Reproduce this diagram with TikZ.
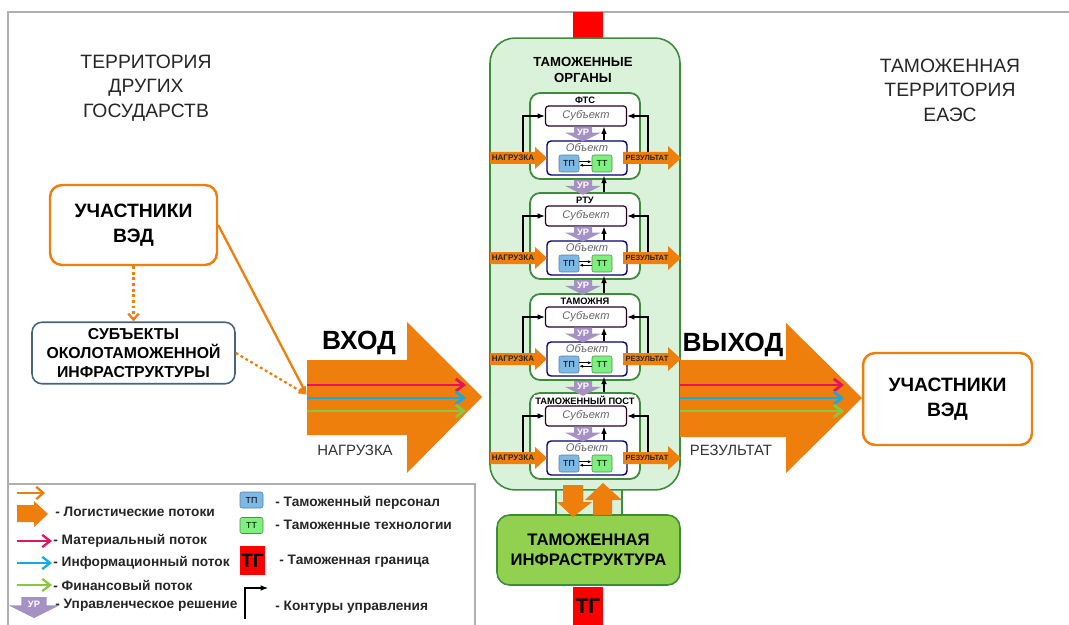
\documentclass[tikz,border=0pt]{standalone}
\usepackage{fontspec}
\setmainfont{Liberation Sans}
\usetikzlibrary{arrows.meta,positioning}
\definecolor{orng}{RGB}{238,127,12}
\definecolor{orgfill}{RGB}{218,242,218}
\definecolor{orgline}{RGB}{60,140,60}
\definecolor{infrafill}{RGB}{146,208,80}
\definecolor{urcol}{RGB}{165,145,195}
\definecolor{tpcol}{RGB}{125,185,230}
\definecolor{ttcol}{RGB}{125,240,125}
\definecolor{pnk}{RGB}{232,18,98}
\definecolor{cyn}{RGB}{22,170,225}
\definecolor{grn}{RGB}{140,198,63}
\definecolor{subline}{RGB}{70,100,125}
\definecolor{frame}{RGB}{175,175,175}
\tikzset{
  pics/ur/.style={code={
    \fill[urcol] (-9,0) -- (9,0) -- (9,6) -- (18,6) -- (0,15) -- (-18,6) -- (-9,6) -- cycle;
    \node[text=white,font=\bfseries\fontsize{5.3}{6}\selectfont,inner sep=0] at (0,5.5) {УР};
  }}
}
\begin{document}
\begin{tikzpicture}[x=0.02cm,y=-0.02cm,
  region/.style={align=center,text=black!85,font=\fontsize{11}{14}\selectfont},
  vedbox/.style={draw=orng,line width=1.4pt,fill=white,rounded corners=0.24cm,align=center,font=\bfseries\fontsize{11}{14}\selectfont},
  subbox/.style={draw=subline,line width=0.9pt,fill=white,rounded corners=0.2cm,align=center,minimum width=4.06cm,minimum height=1.2cm,font=\bfseries\fontsize{9}{11}\selectfont},
  bigword/.style={font=\bfseries\fontsize{15}{18}\selectfont,inner sep=0},
  smallword/.style={text=black!80,font=\fontsize{8.5}{10}\selectfont,inner sep=0},
  unitbox/.style={draw=orgline,line width=1pt,fill=white,rounded corners=0.2cm,minimum width=2.2cm,minimum height=1.72cm},
  unitttl/.style={font=\bfseries\fontsize{5.3}{6}\selectfont,inner sep=0.5pt},
  subjbox/.style={draw=black!70!violet,line width=0.7pt,fill=white,rounded corners=0.06cm,minimum width=1.62cm,minimum height=0.4cm,text=black!60,font=\itshape\fontsize{6.3}{7}\selectfont,inner sep=0},
  objbox/.style={draw=blue!45!black,line width=0.8pt,fill=white,rounded corners=0.08cm,minimum width=1.6cm,minimum height=0.68cm},
  objlbl/.style={text=black!60,font=\itshape\fontsize{6.3}{7}\selectfont,inner sep=0},
  tpbox/.style={fill=tpcol,draw=tpcol!70!black,line width=0.3pt,rounded corners=0.04cm,minimum width=0.4cm,minimum height=0.34cm,inner sep=0,font=\fontsize{5}{6}\selectfont},
  ttbox/.style={tpbox,fill=ttcol,draw=ttcol!60!black},
  tinyarr/.style={-{Latex[length=2.2pt,width=1.8pt]},line width=0.45pt},
  ctl/.style={-{Latex[length=4.2pt,width=3.2pt]},line width=0.6pt},
  arrword/.style={font=\bfseries\fontsize{4.6}{5}\selectfont,text=black!85,inner sep=0},
  flow/.style={line width=1.6pt,-{Straight Barb[length=4.5pt,width=7pt]}},
  legtxt/.style={anchor=west,font=\bfseries\fontsize{7.8}{9}\selectfont,text=black!85,inner sep=0}]
\useasboundingbox (0,0) rectangle (1069,625);

% frame
\draw[frame,line width=0.8pt] (8,625) -- (8,12) -- (1069,12);

% regions
\node[region] (terL) at (146,88) {ТЕРРИТОРИЯ\\ДРУГИХ\\ГОСУДАРСТВ};
\node[region] (terR) at (950,90) {ТАМОЖЕННАЯ\\ТЕРРИТОРИЯ\\ЕАЭС};

% customs border and bodies
\fill[red] (573,12) rectangle (603,40);
\draw[orgline,fill=orgfill,line width=0.8pt] (556,480) rectangle (622,520);
\node[draw=orgline,line width=0.9pt,fill=orgfill,rounded corners=0.5cm,minimum width=3.8cm,minimum height=9.04cm] (organs) at (585,264) {};
\node[font=\bfseries\fontsize{7.5}{9}\selectfont,align=center] (orgttl) at (583,70) {ТАМОЖЕННЫЕ\\ОРГАНЫ};
\node[draw=orgline,line width=0.9pt,fill=infrafill,rounded corners=0.25cm,minimum width=3.66cm,minimum height=1.4cm,align=center,font=\bfseries\fontsize{9.5}{11.5}\selectfont] (infra) at (588.5,550) {ТАМОЖЕННАЯ\\ИНФРАСТРУКТУРА};
\node[fill=red,minimum width=0.6cm,minimum height=0.76cm,inner sep=0,font=\bfseries\fontsize{12}{14}\selectfont] (tgbot) at (588,606) {ТГ};
\fill[orng] (563,485) -- (583,485) -- (583,502) -- (592,502) -- (573,517) -- (557,502) -- (563,502) -- cycle;
\fill[orng] (593,515) -- (612,515) -- (612,500) -- (622,500) -- (603,483) -- (585,500) -- (593,500) -- cycle;

% units
\coordinate (lx) at (523,0);
\coordinate (rx) at (648,0);
\coordinate (ux) at (604,0);
\coordinate (urx) at (583,0);
\foreach \i/\y/\ttl in {1/93/ФТС,2/193/РТУ,3/294/ТАМОЖНЯ,4/393/ТАМОЖЕННЫЙ ПОСТ}{
  \node[unitbox] (unit\i) at (585,\y+43) {};
  \node[unitttl,fill=white] (ttl\i) at (585,\y+7) {\ttl};
  \node[subjbox] (subj\i) at (586,\y+23) {Субъект};
  \node[objbox] (obj\i) at (587,\y+65) {};
  \node[objlbl] (objl\i) at (587,\y+54) {Объект};
  \node[tpbox] (tp\i) at (569,\y+70.5) {ТП};
  \node[ttbox] (tt\i) at (602,\y+70.5) {ТТ};
  \draw[tinyarr] ([yshift=0.035cm]tp\i.east) -- ([yshift=0.035cm]tt\i.west);
  \draw[tinyarr] ([yshift=-0.035cm]tt\i.west) -- ([yshift=-0.035cm]tp\i.east);
  \draw[ctl] (obj\i.north -| ux) -- (subj\i.south -| ux);
  \pic at (subj\i.south -| urx) {ur};
  \draw[ctl] (lx |- obj\i.center) |- (subj\i.west);
  \draw[ctl] (rx |- obj\i.center) |- (subj\i.east);
  \fill[orng] (490,\y+59) -- (535,\y+59) -- (535,\y+54) -- (547,\y+65) -- (535,\y+76) -- (535,\y+71) -- (490,\y+71) -- cycle;
  \node[arrword] (nag\i) at (513,\y+65) {НАГРУЗКА};
  \fill[orng] (623,\y+59) -- (668,\y+59) -- (668,\y+53) -- (681,\y+65) -- (668,\y+77) -- (668,\y+71) -- (623,\y+71) -- cycle;
  \node[arrword,font=\bfseries\fontsize{4.3}{5}\selectfont] (res\i) at (647,\y+65) {РЕЗУЛЬТАТ};
}
\foreach \i/\j in {1/2,2/3,3/4}{
  \pic at (unit\i.south -| urx) {ur};
  \draw[ctl] (unit\j.north -| ux) -- (obj\i.south -| ux);
}

% input and output
\fill[orng] (307,360) -- (407,360) -- (407,322) -- (482,397) -- (407,473) -- (407,435) -- (307,435) -- cycle;
\fill[orng] (680,360) -- (786,360) -- (786,323) -- (862,398) -- (786,473) -- (786,437) -- (680,437) -- cycle;
\foreach \c/\yy in {pnk/385,cyn/398,grn/411}{
  \draw[flow,\c] (307,\yy) -- (466,\yy);
  \draw[flow,\c] (680,\yy) -- (844,\yy);
}
\node[bigword] (vhod) at (359,343) {ВХОД};
\node[smallword] (load) at (355,450) {НАГРУЗКА};
\node[bigword] (vyhod) at (733,345) {ВЫХОД};
\node[smallword] (result) at (731,450) {РЕЗУЛЬТАТ};

% participants
\node[vedbox,minimum width=3.34cm,minimum height=1.6cm] (vedL) at (133.5,225) {УЧАСТНИКИ\\ВЭД};
\node[subbox] (okolo) at (133.5,353) {СУБЪЕКТЫ\\ОКОЛОТАМОЖЕННОЙ\\ИНФРАСТРУКТУРЫ};
\node[vedbox,minimum width=3.38cm,minimum height=1.84cm] (vedR) at (947.5,399) {УЧАСТНИКИ\\ВЭД};
\coordinate (vin) at (307,395);
\draw[orng,line width=1.3pt,dash pattern=on 1.6pt off 1.6pt,-{Straight Barb[length=3.5pt,width=6pt]}] (vedL.south) -- (okolo.north);
\draw[orng,line width=1.3pt,-{Latex[length=5pt,width=4pt]}] (vedL.east) -- (vin);
\draw[orng,line width=1.3pt,dash pattern=on 1.6pt off 1.6pt,-{Latex[length=5pt,width=4pt]}] (okolo.east) -- (vin);

% legend
\draw[frame,line width=0.8pt] (8,484) -- (475,484) -- (475,625);
\draw[orng,line width=1.3pt,-{Straight Barb[length=4pt,width=7pt]}] (17,493) -- (45,493);
\fill[orng] (17,505) -- (34,505) -- (34,501) -- (48,514) -- (34,527) -- (34,522) -- (17,522) -- cycle;
\node[legtxt] (lg1) at (55,512) {- Логистические потоки};
\foreach \c/\yy/\t in {pnk/541/Материальный поток,cyn/563/Информационный поток,grn/585/Финансовый поток}{
  \draw[flow,\c,line width=1.3pt] (17,\yy) -- (52,\yy);
  \node[legtxt] at (53,\yy) {- \t};
}
\pic[scale=1.4] at (34,597) {ur};
\node[legtxt] (lg5) at (55,605) {- Управленческое решение};
\node[tpbox,minimum width=0.46cm,minimum height=0.32cm] (lgtp) at (251.5,500) {ТП};
\node[legtxt] (lg6) at (275,503) {- Таможенный персонал};
\node[ttbox,minimum width=0.46cm,minimum height=0.32cm] (lgtt) at (251.5,525.5) {ТТ};
\node[legtxt] (lg7) at (275,525) {- Таможенные технологии};
\node[fill=red,minimum width=0.5cm,minimum height=0.58cm,inner sep=0,font=\bfseries\fontsize{11}{13}\selectfont] (lgtg) at (252.5,560.5) {ТГ};
\node[legtxt] (lg8) at (279,561) {- Таможенная граница};
\coordinate (cl0) at (245,619);
\coordinate (cl1) at (268,588);
\draw[ctl] (cl0) |- (cl1);
\node[legtxt] (lg9) at (275,607) {- Контуры управления};
\end{tikzpicture}
\end{document}
